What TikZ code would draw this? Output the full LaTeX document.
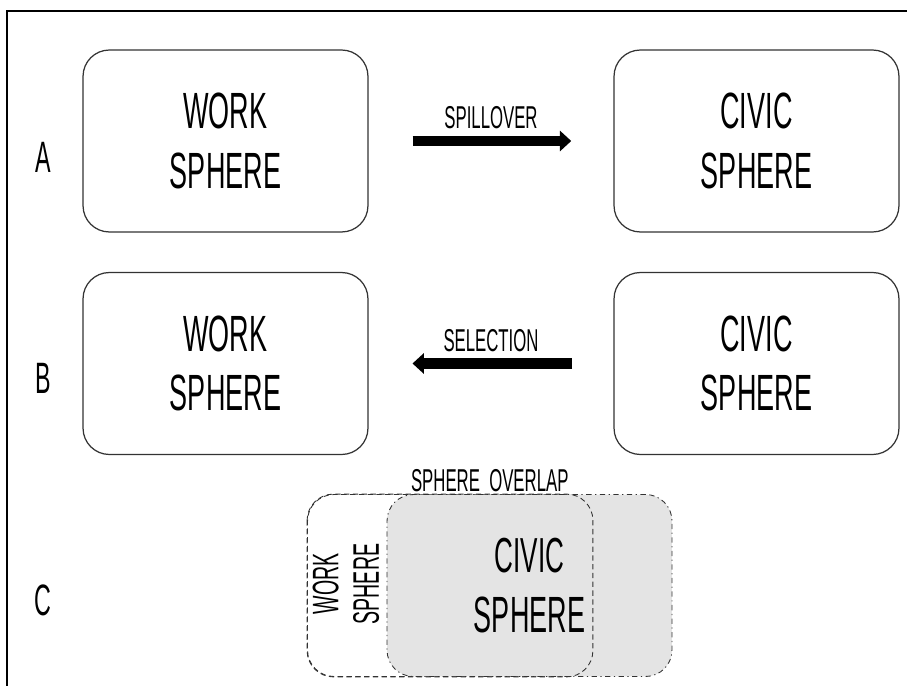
\documentclass[tikz,border=0pt]{standalone}
\usepackage{fontspec}
\setmainfont[FakeStretch=0.53]{Liberation Sans}
\usetikzlibrary{calc,arrows.meta}
\definecolor{OverlapGray}{HTML}{E4E4E4}
\definecolor{EdgeGray}{HTML}{333333}
\newcommand{\BoxW}{5.7cm}
\newcommand{\BoxH}{3.64cm}
\newcommand{\BigFont}{\fontsize{29}{34}\selectfont}
\tikzset{
  sphere/.style={draw=EdgeGray, line width=0.7pt, rounded corners=15pt,
    minimum width=\BoxW, minimum height=\BoxH, align=center, font=\BigFont},
  rowtag/.style={font=\fontsize{25}{28}\selectfont},
  flowlabel/.style={font=\fontsize{18}{20}\selectfont, inner sep=1pt},
  fatarrow/.style={line width=5.7pt, -{Triangle[length=6.5pt, width=11.5pt]}},
}

\begin{document}
\begin{tikzpicture}[x=0.02cm, y=-0.02cm]
    \useasboundingbox (0,0) rectangle (907,686);
    % frame
    \draw[line width=1.2pt] (7,686) -- (7,11) -- (907,11);
    % row A
    \node[rowtag] (tagA) at (43,157) {A};
    \node[sphere] (awork) at (225.5,141) {WORK\\SPHERE};
    \node[sphere] (acivic) at (756.5,141) {CIVIC\\SPHERE};
    \draw[fatarrow, shorten <=25pt, shorten >=24pt] (awork) -- (acivic)
      node[midway, above=3pt, flowlabel] (spill) {SPILLOVER};
    % row B
    \node[rowtag] (tagB) at (43,378) {B};
    \node[sphere] (bwork) at (225.5,363.5) {WORK\\SPHERE};
    \node[sphere] (bcivic) at (756.5,363.5) {CIVIC\\SPHERE};
    \draw[fatarrow, shorten <=23.5pt, shorten >=25pt] (bcivic) -- (bwork)
      node[midway, above=3pt, flowlabel] (select) {SELECTION};
    % row C
    \node[rowtag] (tagC) at (43,600) {C};
    \node[sphere, fill=white, densely dashed, line width=0.5pt] (cwork) at (450,585.5) {};
    \node[sphere, fill=OverlapGray, dash dot, line width=0.5pt] (ccivic) at (529.5,585.5)
      {\fontsize{28}{29}\selectfont CIVIC\\SPHERE};
    \draw[EdgeGray, densely dashed, line width=0.5pt, rounded corners=15pt]
      (cwork.north west) rectangle (cwork.south east);
    \node[rotate=90, align=center, font=\fontsize{21}{23}\selectfont] (cworktext)
      at (346,584) {WORK\\SPHERE};
    \node[flowlabel, anchor=south] (overlap)
      at ($(cwork.north)!0.5!(ccivic.north)$) {SPHERE\ \ OVERLAP};
  \end{tikzpicture}
\end{document}
